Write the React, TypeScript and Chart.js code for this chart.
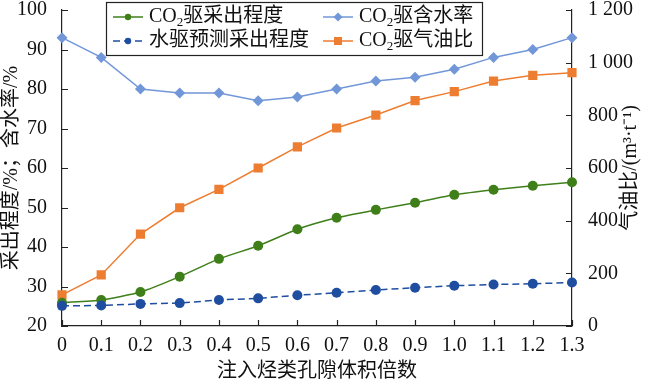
import React, { useEffect, useRef } from "react";
import { Chart, registerables } from "chart.js";

Chart.register(...registerables);

const categories = ["0", "0.1", "0.2", "0.3", "0.4", "0.5", "0.6", "0.7", "0.8", "0.9", "1.0", "1.1", "1.2", "1.3"];
const co2Recovery = [25.9, 26.6, 28.6, 32.5, 37.0, 40.3, 44.5, 47.4, 49.4, 51.2, 53.2, 54.5, 55.5, 56.4];
const waterRecovery = [25.1, 25.2, 25.6, 25.8, 26.6, 27.0, 27.8, 28.4, 29.1, 29.7, 30.2, 30.5, 30.7, 31.0];
const co2WaterCut = [93, 88, 80, 79, 79, 77, 78, 80, 82, 83, 85, 88, 90, 93];
const co2GasOilRatio = [118, 194, 349, 449, 519, 600, 680, 752, 801, 856, 890, 930, 952, 962];

const leftTicks = [20, 30, 40, 50, 60, 70, 80, 90, 100];
const rightTicks = [0, 200, 400, 600, 800, 1000, 1200];

const FONT = "'Liberation Serif', 'Noto Sans CJK SC', serif";
const TXT = "#111111";
const GREEN = "#3f7f1a";
const BLUE = "#1f4ea0";
const LIGHT = "#7297d9";
const ORANGE = "#ed7d31";

function fmtThousands(v: number) {
  const s = String(v);
  return s.length > 3 ? s.slice(0, s.length - 3) + " " + s.slice(s.length - 3) : s;
}

function drawRich(ctx: CanvasRenderingContext2D, x: number, y: number, parts: { t: string; sub?: boolean }[]) {
  let cx = x;
  ctx.textBaseline = "middle";
  ctx.textAlign = "left";
  for (const p of parts) {
    if (p.sub) {
      ctx.font = `13px ${FONT}`;
      ctx.fillText(p.t, cx, y + 6);
    } else {
      ctx.font = `20px ${FONT}`;
      ctx.fillText(p.t, cx, y);
    }
    cx += ctx.measureText(p.t).width;
  }
}

const legendLabels: { t: string; sub?: boolean }[][] = [
  [{ t: "CO" }, { t: "2", sub: true }, { t: "驱采出程度" }],
  [{ t: "CO" }, { t: "2", sub: true }, { t: "驱含水率" }],
  [{ t: "水驱预测采出程度" }],
  [{ t: "CO" }, { t: "2", sub: true }, { t: "驱气油比" }],
];

const zeroPad = (s: any) => {
  s.paddingTop = 0;
  s.paddingBottom = 0;
  s.paddingLeft = 0;
  s.paddingRight = 0;
};

const overlayPlugin = {
  id: "overlay",
  afterDraw(chart: any) {
    const ctx: CanvasRenderingContext2D = chart.ctx;
    const area = chart.chartArea;
    const xs = chart.scales.x;
    const yl = chart.scales.y;
    const yr = chart.scales.y1;
    ctx.save();
    // inward tick marks
    ctx.strokeStyle = "#222";
    ctx.lineWidth = 1.2;
    ctx.beginPath();
    yl.ticks.forEach((t: any) => {
      const py = Math.round(yl.getPixelForValue(t.value)) + 0.5;
      ctx.moveTo(area.left, py);
      ctx.lineTo(area.left + 6, py);
    });
    yr.ticks.forEach((t: any) => {
      const py = Math.round(yr.getPixelForValue(t.value)) + 0.5;
      ctx.moveTo(area.right, py);
      ctx.lineTo(area.right - 6, py);
    });
    xs.ticks.forEach((_t: any, i: number) => {
      const px = Math.round(xs.getPixelForTick(i)) + 0.5;
      ctx.moveTo(px, area.bottom);
      ctx.lineTo(px, area.bottom - 6);
    });
    ctx.stroke();

    // legend
    const bx = 106.5, by = 2.5, bw = 376, bh = 53;
    ctx.fillStyle = "#fff";
    ctx.fillRect(bx, by, bw, bh);
    ctx.strokeStyle = "#222";
    ctx.lineWidth = 1.2;
    ctx.strokeRect(bx, by, bw, bh);
    const slots = [
      { di: 0, x: 113, y: 17 },
      { di: 1, x: 323, y: 17 },
      { di: 2, x: 113, y: 41 },
      { di: 3, x: 323, y: 41 },
    ];
    slots.forEach((s, k) => {
      const ds = chart.data.datasets[s.di];
      ctx.save();
      ctx.strokeStyle = ds.borderColor;
      ctx.lineWidth = 1.5;
      ctx.setLineDash(ds.borderDash || []);
      ctx.beginPath();
      ctx.moveTo(s.x, s.y);
      ctx.lineTo(s.x + 30, s.y);
      ctx.stroke();
      ctx.setLineDash([]);
      ctx.fillStyle = ds.backgroundColor;
      const cx = s.x + 15;
      ctx.beginPath();
      if (ds.pointStyle === "rect") {
        ctx.rect(cx - 4, s.y - 4, 8, 8);
      } else if (ds.pointStyle === "rectRot") {
        ctx.moveTo(cx, s.y - 4.5);
        ctx.lineTo(cx + 4.5, s.y);
        ctx.lineTo(cx, s.y + 4.5);
        ctx.lineTo(cx - 4.5, s.y);
        ctx.closePath();
      } else {
        ctx.arc(cx, s.y, 3.2, 0, Math.PI * 2);
      }
      ctx.fill();
      ctx.restore();
      ctx.fillStyle = TXT;
      drawRich(ctx, s.x + 36, s.y, legendLabels[k]);
    });

    // right axis title, reading bottom-to-top
    ctx.save();
    ctx.translate(631, (area.top + area.bottom) / 2);
    ctx.rotate(-Math.PI / 2);
    ctx.fillStyle = TXT;
    ctx.textAlign = "center";
    ctx.textBaseline = "middle";
    ctx.font = `20px ${FONT}`;
    ctx.fillText("气油比/(m³·t⁻¹)", 0, 0);
    ctx.restore();
    ctx.restore();
  },
};

export default function App() {
  const ref = useRef<HTMLCanvasElement | null>(null);
  useEffect(() => {
    document.body.style.margin = "0";
    if (!ref.current) return;
    const chart = new Chart(ref.current, {
      type: "line",
      data: {
        labels: categories,
        datasets: [
          {
            label: "CO2驱采出程度",
            data: co2Recovery,
            yAxisID: "y",
            borderColor: GREEN,
            backgroundColor: GREEN,
            borderWidth: 1.5,
            pointStyle: "circle",
            pointRadius: 5,
            pointBorderWidth: 0,
            tension: 0.2,
            order: 1,
          },
          {
            label: "CO2驱含水率",
            data: co2WaterCut,
            yAxisID: "y",
            borderColor: LIGHT,
            backgroundColor: LIGHT,
            borderWidth: 1.5,
            pointStyle: "rectRot",
            pointRadius: 5.5,
            pointBorderWidth: 0,
            tension: 0,
            order: 2,
          },
          {
            label: "水驱预测采出程度",
            data: waterRecovery,
            yAxisID: "y",
            borderColor: BLUE,
            backgroundColor: BLUE,
            borderWidth: 1.5,
            borderDash: [7, 4],
            pointStyle: "circle",
            pointRadius: 5,
            pointBorderWidth: 0,
            tension: 0,
            order: 0,
          },
          {
            label: "CO2驱气油比",
            data: co2GasOilRatio,
            yAxisID: "y1",
            borderColor: ORANGE,
            backgroundColor: ORANGE,
            borderWidth: 1.5,
            pointStyle: "rect",
            pointRadius: 6.5,
            pointBorderWidth: 0,
            tension: 0,
            order: 3,
          },
        ] as any,
      },
      options: {
        animation: false,
        responsive: false,
        devicePixelRatio: 1,
        layout: { padding: { top: 10, left: 0, right: 0, bottom: 0 } },
        plugins: { legend: { display: false }, tooltip: { enabled: false } },
        scales: {
          x: {
            type: "category",
            offset: false,
            grid: { display: false },
            border: { display: true, color: "#222", width: 1.2 },
            ticks: { color: TXT, font: { family: FONT, size: 20 }, padding: 0, maxRotation: 0, autoSkip: false },
            title: {
              display: true,
              text: "注入烃类孔隙体积倍数",
              color: TXT,
              font: { family: FONT, size: 20 },
              padding: { top: 0, bottom: 0 },
            },
            afterFit: (s: any) => {
              s.height = 58;
              zeroPad(s);
            },
          },
          y: {
            type: "linear",
            position: "left",
            min: 20,
            max: 100,
            afterBuildTicks: (s: any) => {
              s.ticks = leftTicks.map((v) => ({ value: v }));
            },
            grid: { display: false },
            border: { display: true, color: "#222", width: 1.2 },
            ticks: { color: TXT, font: { family: FONT, size: 20, lineHeight: 1 }, padding: 7 },
            title: {
              display: true,
              text: "采出程度/%；含水率/%",
              color: TXT,
              font: { family: FONT, size: 20 },
              padding: 0,
            },
            afterFit: (s: any) => {
              s.width = 62;
              zeroPad(s);
            },
          },
          y1: {
            type: "linear",
            position: "right",
            min: 0,
            max: 1200,
            afterBuildTicks: (s: any) => {
              s.ticks = rightTicks.map((v) => ({ value: v }));
            },
            grid: { display: false },
            border: { display: true, color: "#222", width: 1.2 },
            ticks: {
              color: TXT,
              font: { family: FONT, size: 20, lineHeight: 1 },
              padding: 8,
              callback: (v: any) => fmtThousands(Number(v)),
            },
            afterFit: (s: any) => {
              s.width = 78;
              zeroPad(s);
            },
          },
        },
      } as any,
      plugins: [overlayPlugin],
    });
    return () => chart.destroy();
  }, []);
  return (
    <div style={{ width: 650, height: 384 }}>
      <canvas ref={ref} width={650} height={384} style={{ display: "block" }} />
    </div>
  );
}
